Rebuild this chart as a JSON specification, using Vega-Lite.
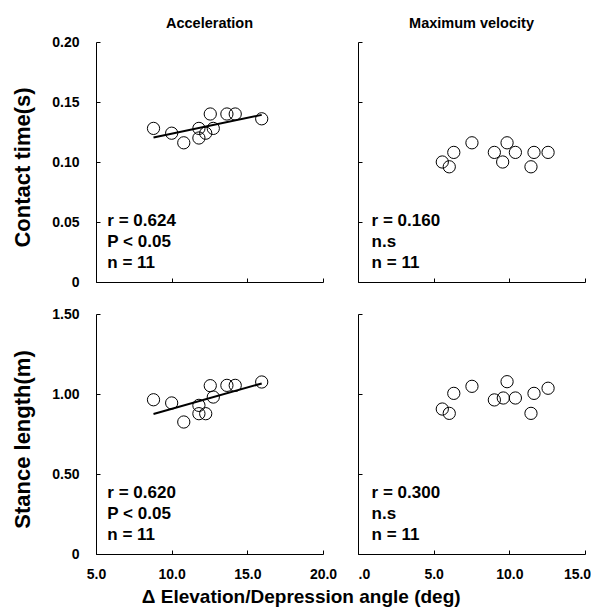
{
  "$schema": "https://vega.github.io/schema/vega-lite/v6.json",
  "background": "white",
  "padding": {"left": 11, "top": 15, "right": 0, "bottom": 0},
  "datasets": {
    "pts": [
      {"phase": "Acceleration", "measure": "ct", "angle": 8.8, "value": 0.128},
      {"phase": "Acceleration", "measure": "ct", "angle": 10.0, "value": 0.124},
      {"phase": "Acceleration", "measure": "ct", "angle": 10.8, "value": 0.116},
      {"phase": "Acceleration", "measure": "ct", "angle": 11.8, "value": 0.128},
      {"phase": "Acceleration", "measure": "ct", "angle": 11.8, "value": 0.120},
      {"phase": "Acceleration", "measure": "ct", "angle": 12.25, "value": 0.124},
      {"phase": "Acceleration", "measure": "ct", "angle": 12.75, "value": 0.128},
      {"phase": "Acceleration", "measure": "ct", "angle": 12.55, "value": 0.140},
      {"phase": "Acceleration", "measure": "ct", "angle": 13.65, "value": 0.140},
      {"phase": "Acceleration", "measure": "ct", "angle": 14.2, "value": 0.140},
      {"phase": "Acceleration", "measure": "ct", "angle": 15.95, "value": 0.136},
      {"phase": "Acceleration", "measure": "sl", "angle": 8.8, "value": 0.964},
      {"phase": "Acceleration", "measure": "sl", "angle": 10.0, "value": 0.944},
      {"phase": "Acceleration", "measure": "sl", "angle": 10.8, "value": 0.825},
      {"phase": "Acceleration", "measure": "sl", "angle": 11.8, "value": 0.929},
      {"phase": "Acceleration", "measure": "sl", "angle": 11.8, "value": 0.877},
      {"phase": "Acceleration", "measure": "sl", "angle": 12.25, "value": 0.877},
      {"phase": "Acceleration", "measure": "sl", "angle": 12.75, "value": 0.981},
      {"phase": "Acceleration", "measure": "sl", "angle": 12.55, "value": 1.052},
      {"phase": "Acceleration", "measure": "sl", "angle": 13.65, "value": 1.054},
      {"phase": "Acceleration", "measure": "sl", "angle": 14.2, "value": 1.054},
      {"phase": "Acceleration", "measure": "sl", "angle": 15.95, "value": 1.075},
      {"phase": "Maximum velocity", "measure": "ct", "angle": 5.57, "value": 0.100},
      {"phase": "Maximum velocity", "measure": "ct", "angle": 6.03, "value": 0.096},
      {"phase": "Maximum velocity", "measure": "ct", "angle": 6.33, "value": 0.108},
      {"phase": "Maximum velocity", "measure": "ct", "angle": 7.53, "value": 0.116},
      {"phase": "Maximum velocity", "measure": "ct", "angle": 9.01, "value": 0.108},
      {"phase": "Maximum velocity", "measure": "ct", "angle": 9.56, "value": 0.100},
      {"phase": "Maximum velocity", "measure": "ct", "angle": 9.85, "value": 0.116},
      {"phase": "Maximum velocity", "measure": "ct", "angle": 10.4, "value": 0.108},
      {"phase": "Maximum velocity", "measure": "ct", "angle": 11.63, "value": 0.108},
      {"phase": "Maximum velocity", "measure": "ct", "angle": 11.43, "value": 0.096},
      {"phase": "Maximum velocity", "measure": "ct", "angle": 12.56, "value": 0.108},
      {"phase": "Maximum velocity", "measure": "sl", "angle": 5.57, "value": 0.906},
      {"phase": "Maximum velocity", "measure": "sl", "angle": 6.03, "value": 0.879},
      {"phase": "Maximum velocity", "measure": "sl", "angle": 6.33, "value": 1.004},
      {"phase": "Maximum velocity", "measure": "sl", "angle": 7.53, "value": 1.048},
      {"phase": "Maximum velocity", "measure": "sl", "angle": 9.01, "value": 0.963},
      {"phase": "Maximum velocity", "measure": "sl", "angle": 9.6, "value": 0.975},
      {"phase": "Maximum velocity", "measure": "sl", "angle": 9.85, "value": 1.077},
      {"phase": "Maximum velocity", "measure": "sl", "angle": 10.4, "value": 0.975},
      {"phase": "Maximum velocity", "measure": "sl", "angle": 11.63, "value": 1.004},
      {"phase": "Maximum velocity", "measure": "sl", "angle": 11.43, "value": 0.879},
      {"phase": "Maximum velocity", "measure": "sl", "angle": 12.56, "value": 1.036}
    ],
    "notes": [
      {"panel": "acc_ct", "label": "r = 0.624\nP < 0.05\nn = 11"},
      {"panel": "max_ct", "label": "r = 0.160\nn.s\nn = 11"},
      {"panel": "acc_sl", "label": "r = 0.620\nP < 0.05\nn = 11"},
      {"panel": "max_sl", "label": "r = 0.300\nn.s\nn = 11"}
    ]
  },
  "title": {"text": "Δ Elevation/Depression angle (deg)", "orient": "bottom", "anchor": "middle", "fontSize": 19, "offset": 7},
  "columns": 2,
  "spacing": {"row": 18, "column": 20},
  "concat": [
    {
      "width": 227, "height": 240,
      "title": {"text": "Acceleration", "fontSize": 14.5, "offset": 4},
      "layer": [
        {
          "data": {"name": "pts"},
          "transform": [{"filter": "datum.phase == 'Acceleration' && datum.measure == 'ct'"}],
          "mark": {"type": "point", "shape": "circle", "size": 150, "filled": false, "stroke": "black", "strokeWidth": 1, "opacity": 1},
          "encoding": {
            "x": {"field": "angle", "type": "quantitative", "scale": {"domain": [5, 20], "nice": false, "zero": false}, "axis": {"values": [5, 10, 15, 20], "labels": false, "labelPadding": 0, "title": null}},
            "y": {"field": "value", "type": "quantitative", "scale": {"domain": [0, 0.2], "nice": false}, "axis": {"values": [0, 0.05, 0.1, 0.15, 0.2], "labelExpr": "datum.value == 0 ? '0' : format(datum.value, '.2f')", "title": "Contact time(s)", "titleY": 125}}
          }
        },
        {
          "data": {"name": "pts"},
          "transform": [{"filter": "datum.phase == 'Acceleration' && datum.measure == 'ct'"}, {"regression": "value", "on": "angle"}],
          "mark": {"type": "line", "color": "black", "strokeWidth": 2},
          "encoding": {"x": {"field": "angle", "type": "quantitative"}, "y": {"field": "value", "type": "quantitative"}}
        },
        {
          "data": {"name": "notes"},
          "transform": [{"filter": "datum.panel == 'acc_ct'"}],
          "mark": {"type": "text", "align": "left", "baseline": "middle", "lineBreak": "\n", "lineHeight": 21, "fontSize": 17, "fontWeight": "bold", "color": "black"},
          "encoding": {"x": {"datum": 5.75, "type": "quantitative"}, "y": {"datum": 0.0505, "type": "quantitative"}, "text": {"field": "label"}}
        }
      ]
    },
    {
      "width": 227, "height": 240,
      "title": {"text": "Maximum velocity", "fontSize": 14.5, "offset": 10},
      "layer": [
        {
          "data": {"name": "pts"},
          "transform": [{"filter": "datum.phase == 'Maximum velocity' && datum.measure == 'ct'"}],
          "mark": {"type": "point", "shape": "circle", "size": 150, "filled": false, "stroke": "black", "strokeWidth": 1, "opacity": 1},
          "encoding": {
            "x": {"field": "angle", "type": "quantitative", "scale": {"domain": [0, 15], "nice": false}, "axis": {"values": [0, 5, 10, 15], "labels": false, "labelPadding": 0, "title": null}},
            "y": {"field": "value", "type": "quantitative", "scale": {"domain": [0, 0.2], "nice": false}, "axis": {"values": [0, 0.05, 0.1, 0.15, 0.2], "labels": false, "labelPadding": 0, "title": null}}
          }
        },
        {
          "data": {"name": "notes"},
          "transform": [{"filter": "datum.panel == 'max_ct'"}],
          "mark": {"type": "text", "align": "left", "baseline": "middle", "lineBreak": "\n", "lineHeight": 21, "fontSize": 17, "fontWeight": "bold", "color": "black"},
          "encoding": {"x": {"datum": 0.9, "type": "quantitative"}, "y": {"datum": 0.0505, "type": "quantitative"}, "text": {"field": "label"}}
        }
      ]
    },
    {
      "width": 227, "height": 240,
      "layer": [
        {
          "data": {"name": "pts"},
          "transform": [{"filter": "datum.phase == 'Acceleration' && datum.measure == 'sl'"}],
          "mark": {"type": "point", "shape": "circle", "size": 150, "filled": false, "stroke": "black", "strokeWidth": 1, "opacity": 1},
          "encoding": {
            "x": {"field": "angle", "type": "quantitative", "scale": {"domain": [5, 20], "nice": false, "zero": false}, "axis": {"values": [5, 10, 15, 20], "format": ".1f", "labelPadding": 17, "title": null}},
            "y": {"field": "value", "type": "quantitative", "scale": {"domain": [0, 1.5], "nice": false}, "axis": {"values": [0, 0.5, 1, 1.5], "labelExpr": "datum.value == 0 ? '0' : format(datum.value, '.2f')", "title": "Stance length(m)", "titleY": 125}}
          }
        },
        {
          "data": {"name": "pts"},
          "transform": [{"filter": "datum.phase == 'Acceleration' && datum.measure == 'sl'"}, {"regression": "value", "on": "angle"}],
          "mark": {"type": "line", "color": "black", "strokeWidth": 2},
          "encoding": {"x": {"field": "angle", "type": "quantitative"}, "y": {"field": "value", "type": "quantitative"}}
        },
        {
          "data": {"name": "notes"},
          "transform": [{"filter": "datum.panel == 'acc_sl'"}],
          "mark": {"type": "text", "align": "left", "baseline": "middle", "lineBreak": "\n", "lineHeight": 21, "fontSize": 17, "fontWeight": "bold", "color": "black"},
          "encoding": {"x": {"datum": 5.75, "type": "quantitative"}, "y": {"datum": 0.383, "type": "quantitative"}, "text": {"field": "label"}}
        }
      ]
    },
    {
      "width": 227, "height": 240,
      "layer": [
        {
          "data": {"name": "pts"},
          "transform": [{"filter": "datum.phase == 'Maximum velocity' && datum.measure == 'sl'"}],
          "mark": {"type": "point", "shape": "circle", "size": 150, "filled": false, "stroke": "black", "strokeWidth": 1, "opacity": 1},
          "encoding": {
            "x": {"field": "angle", "type": "quantitative", "scale": {"domain": [0, 15], "nice": false}, "axis": {"values": [0, 5, 10, 15], "labelPadding": 17, "labelExpr": "datum.value == 0 ? '.0' : format(datum.value, '.1f')", "labelAlign": {"condition": {"test": "datum.value == 0", "value": "left"}, "value": "center"}, "labelOffset": {"condition": {"test": "datum.value == 15", "value": -8}, "value": 0}, "title": null}},
            "y": {"field": "value", "type": "quantitative", "scale": {"domain": [0, 1.5], "nice": false}, "axis": {"values": [0, 0.5, 1, 1.5], "labels": false, "labelPadding": 0, "title": null}}
          }
        },
        {
          "data": {"name": "notes"},
          "transform": [{"filter": "datum.panel == 'max_sl'"}],
          "mark": {"type": "text", "align": "left", "baseline": "middle", "lineBreak": "\n", "lineHeight": 21, "fontSize": 17, "fontWeight": "bold", "color": "black"},
          "encoding": {"x": {"datum": 0.9, "type": "quantitative"}, "y": {"datum": 0.383, "type": "quantitative"}, "text": {"field": "label"}}
        }
      ]
    }
  ],
  "config": {
    "view": {"stroke": null},
    "font": "Liberation Sans",
    "axis": {
      "grid": false,
      "domainColor": "black",
      "domainWidth": 1,
      "tickColor": "black",
      "tickWidth": 1,
      "tickSize": -4,
      "labelFont": "Liberation Sans",
      "labelFontWeight": "bold",
      "labelFontSize": 14,
      "labelColor": "black",
      "labelPadding": 21,
      "labelFlush": false,
      "labelOverlap": false,
      "titleFont": "Liberation Sans",
      "titleFontWeight": "bold",
      "titleFontSize": 22,
      "titleColor": "black",
      "titlePadding": 17
    },
    "title": {"font": "Liberation Sans", "fontWeight": "bold", "color": "black"}
  }
}
